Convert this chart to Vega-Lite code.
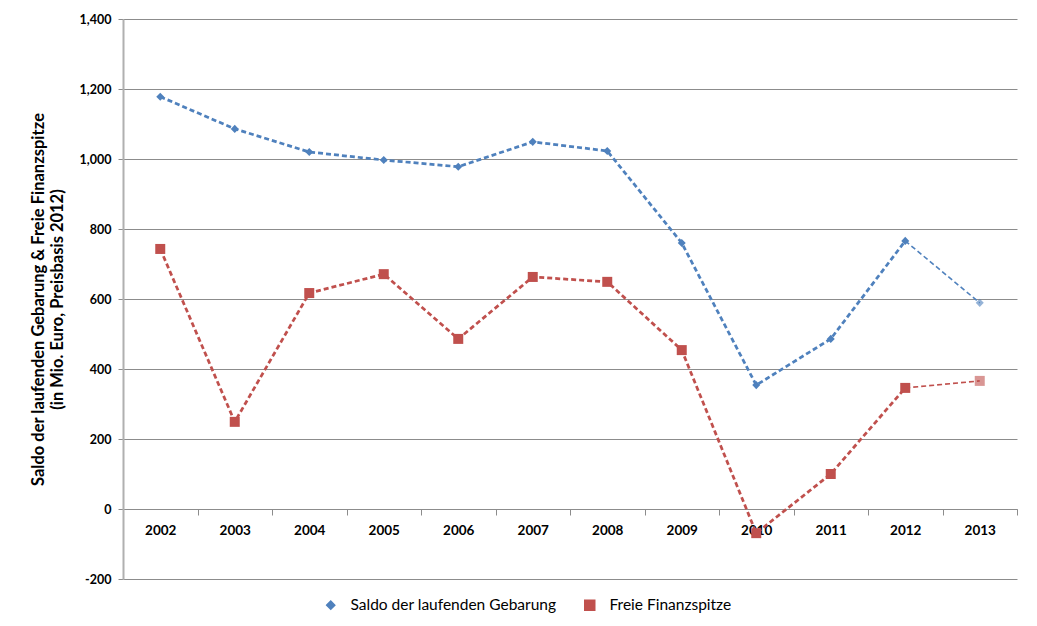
{
  "$schema": "https://vega.github.io/schema/vega-lite/v6.json",
  "autosize": {"type": "none"},
  "padding": {"left": 123, "top": 19, "right": 20, "bottom": 47},
  "width": 894,
  "height": 560,
  "background": "white",
  "config": {
    "font": "Lato",
    "view": {"stroke": null},
    "axis": {"labelFont": "Lato", "titleFont": "Lato"}
  },
  "data": {
    "values": [
      {"series": "Saldo der laufenden Gebarung", "year": "2002", "value": 1178, "seg": "a"},
      {"series": "Saldo der laufenden Gebarung", "year": "2003", "value": 1086, "seg": "a"},
      {"series": "Saldo der laufenden Gebarung", "year": "2004", "value": 1020, "seg": "a"},
      {"series": "Saldo der laufenden Gebarung", "year": "2005", "value": 997, "seg": "a"},
      {"series": "Saldo der laufenden Gebarung", "year": "2006", "value": 978, "seg": "a"},
      {"series": "Saldo der laufenden Gebarung", "year": "2007", "value": 1049, "seg": "a"},
      {"series": "Saldo der laufenden Gebarung", "year": "2008", "value": 1023, "seg": "a"},
      {"series": "Saldo der laufenden Gebarung", "year": "2009", "value": 760, "seg": "a"},
      {"series": "Saldo der laufenden Gebarung", "year": "2010", "value": 354, "seg": "a"},
      {"series": "Saldo der laufenden Gebarung", "year": "2011", "value": 486, "seg": "a"},
      {"series": "Saldo der laufenden Gebarung", "year": "2012", "value": 766, "seg": "a"},
      {"series": "Saldo der laufenden Gebarung", "year": "2012", "value": 766, "seg": "b"},
      {"series": "Saldo der laufenden Gebarung", "year": "2013", "value": 589, "seg": "b"},
      {"series": "Freie Finanzspitze", "year": "2002", "value": 743, "seg": "a"},
      {"series": "Freie Finanzspitze", "year": "2003", "value": 249, "seg": "a"},
      {"series": "Freie Finanzspitze", "year": "2004", "value": 617, "seg": "a"},
      {"series": "Freie Finanzspitze", "year": "2005", "value": 671, "seg": "a"},
      {"series": "Freie Finanzspitze", "year": "2006", "value": 486, "seg": "a"},
      {"series": "Freie Finanzspitze", "year": "2007", "value": 663, "seg": "a"},
      {"series": "Freie Finanzspitze", "year": "2008", "value": 649, "seg": "a"},
      {"series": "Freie Finanzspitze", "year": "2009", "value": 454, "seg": "a"},
      {"series": "Freie Finanzspitze", "year": "2010", "value": -69, "seg": "a"},
      {"series": "Freie Finanzspitze", "year": "2011", "value": 100, "seg": "a"},
      {"series": "Freie Finanzspitze", "year": "2012", "value": 346, "seg": "a"},
      {"series": "Freie Finanzspitze", "year": "2012", "value": 346, "seg": "b"},
      {"series": "Freie Finanzspitze", "year": "2013", "value": 366, "seg": "b"}
    ]
  },
  "encoding": {
    "x": {
      "field": "year", "type": "ordinal", "title": null,
      "scale": {"paddingInner": 0, "paddingOuter": 0},
      "axis": {
        "offset": -70, "labelAngle": 0, "labelFontWeight": "bold", "labelFontSize": 13.5,
        "labelColor": "#000", "labelPadding": 8, "domainColor": "#8c8c8c", "domainWidth": 1,
        "tickColor": "#8c8c8c", "tickSize": 6, "tickBand": "extent", "grid": false
      }
    },
    "y": {
      "field": "value", "type": "quantitative",
      "scale": {"domain": [-200, 1400], "nice": false, "zero": false},
      "axis": {
        "values": [-200, 0, 200, 400, 600, 800, 1000, 1200, 1400],
        "labelExpr": "replace(format(datum.value, ','), '\u2212', '-')",
        "labelFontWeight": "bold", "labelFontSize": 12.5, "labelColor": "#000", "labelPadding": 7,
        "grid": true, "gridColor": "#8c8c8c", "gridWidth": 1,
        "domainColor": "#b0b0b0", "domainWidth": 2, "tickColor": "#8c8c8c", "tickSize": 5,
        "title": ["Saldo der laufenden Gebarung & Freie Finanzspitze", "(in Mio. Euro, Preisbasis 2012)"],
        "titleFontSize": 16.5, "titleFontWeight": "bold", "titleColor": "#000", "titlePadding": 14
      }
    },
    "color": {
      "field": "series", "type": "nominal",
      "scale": {"domain": ["Saldo der laufenden Gebarung", "Freie Finanzspitze"], "range": ["#4F81BD", "#C0504D"]},
      "legend": {
        "title": null, "orient": "none", "direction": "horizontal", "legendX": 200, "legendY": 578,
        "labelFontSize": 15.5, "labelColor": "#000", "columnPadding": 24, "symbolSize": 100, "labelOffset": 12, "labelLimit": 0
      }
    }
  },
  "layer": [
    {
      "mark": {"type": "line", "strokeDash": [5, 3]},
      "encoding": {
        "detail": {"field": "seg"},
        "strokeWidth": {"field": "seg", "type": "nominal", "scale": {"domain": ["a", "b"], "range": [2.75, 1.6]}, "legend": null}
      }
    },
    {
      "transform": [{"filter": "!(datum.year == '2012' && datum.seg == 'b')"}],
      "mark": {"type": "point", "filled": true},
      "encoding": {
        "shape": {
          "field": "series", "type": "nominal",
          "scale": {"domain": ["Saldo der laufenden Gebarung", "Freie Finanzspitze"], "range": ["diamond", "square"]},
          "legend": {"title": null}
        },
        "size": {"field": "series", "type": "nominal", "scale": {"domain": ["Saldo der laufenden Gebarung", "Freie Finanzspitze"], "range": [65, 100]}, "legend": null},
        "opacity": {"condition": {"test": "datum.year == '2013'", "value": 0.6}, "value": 1}
      }
    }
  ]
}
